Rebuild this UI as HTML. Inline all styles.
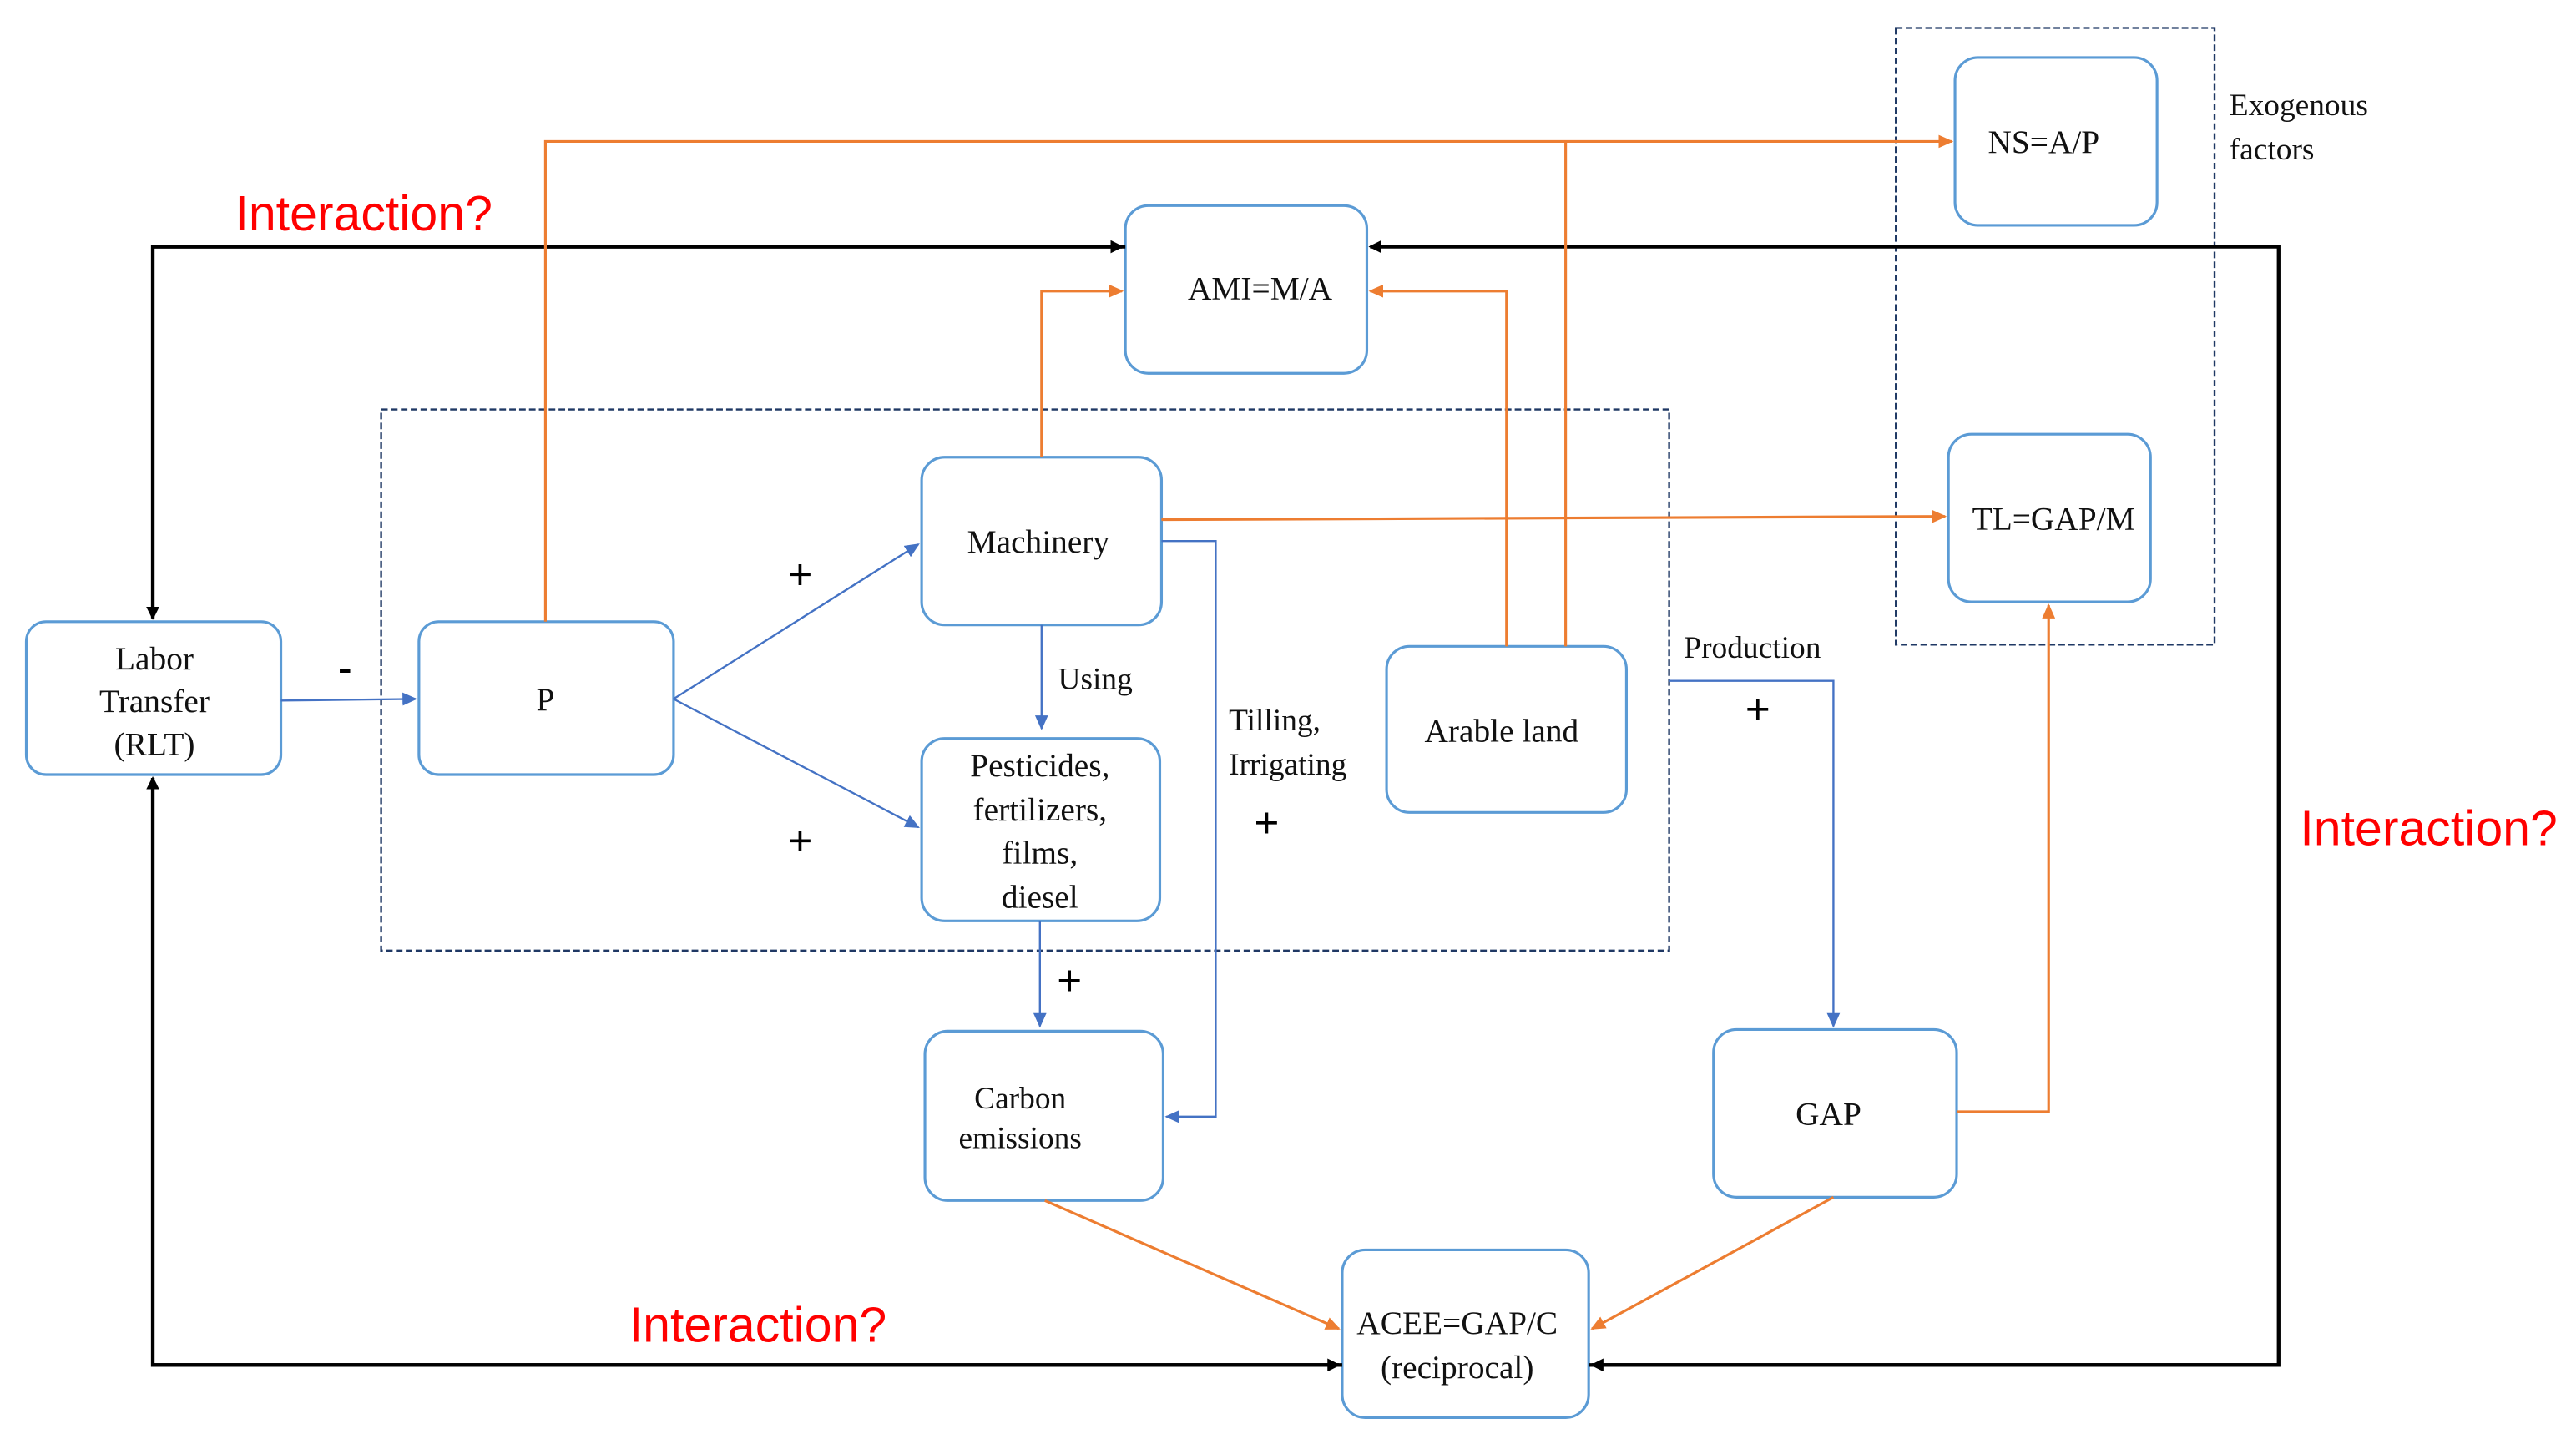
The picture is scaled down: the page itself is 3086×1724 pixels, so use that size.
<!DOCTYPE html>
<html><head><meta charset="utf-8"><style>html,body{margin:0;padding:0;background:#fff}svg{display:block}</style></head><body>
<svg width="3086" height="1724" viewBox="0 0 1568 875" preserveAspectRatio="none" xmlns="http://www.w3.org/2000/svg">
<defs>
<marker id="ab" markerWidth="8" markerHeight="8" refX="7" refY="4" orient="auto" markerUnits="userSpaceOnUse"><path d="M0,0 L8,4 L0,8 z" fill="#000"/></marker>
<marker id="ao" markerWidth="9" markerHeight="8" refX="8" refY="4" orient="auto" markerUnits="userSpaceOnUse"><path d="M0,0 L9,4 L0,8 z" fill="#ED7D31"/></marker>
<marker id="au" markerWidth="9" markerHeight="8" refX="8" refY="4" orient="auto" markerUnits="userSpaceOnUse"><path d="M0,0 L9,4 L0,8 z" fill="#4472C4"/></marker>
</defs>
<g fill="none" stroke="#1F3864" stroke-width="1.2" stroke-dasharray="4,2">
<rect x="232" y="249" width="784" height="329"/>
<rect x="1154" y="17" width="194" height="375"/>
</g>
<g fill="#fff" stroke="#5B9BD5" stroke-width="1.6">
<rect x="16" y="378" width="155" height="93" rx="12"/>
<rect x="255" y="378" width="155" height="93" rx="12"/>
<rect x="561" y="278" width="146" height="102" rx="14"/>
<rect x="561" y="449" width="145" height="111" rx="14"/>
<rect x="563" y="627" width="145" height="103" rx="14"/>
<rect x="685" y="125" width="147" height="102" rx="14"/>
<rect x="844" y="393" width="146" height="101" rx="14"/>
<rect x="1190" y="35" width="123" height="102" rx="14"/>
<rect x="1186" y="264" width="123" height="102" rx="14"/>
<rect x="1043" y="626" width="148" height="102" rx="14"/>
<rect x="817" y="760" width="150" height="102" rx="14"/>
</g>
<g fill="none" stroke="#000" stroke-width="2.2">
<path d="M685,150 H93 V376" marker-end="url(#ab)"/>
<path d="M93,150 H683" marker-end="url(#ab)"/>
<path d="M967,830 H1387 V150 H834" marker-end="url(#ab)"/>
<path d="M1387,830 H969" marker-end="url(#ab)"/>
<path d="M817,830 H93 V473" marker-end="url(#ab)"/>
<path d="M93,830 H815" marker-end="url(#ab)"/>
</g>
<g fill="none" stroke="#ED7D31" stroke-width="1.6">
<path d="M332,378 V86 H1188" marker-end="url(#ao)"/>
<path d="M953,393 V86"/>
<path d="M917,393 V177 H834" marker-end="url(#ao)"/>
<path d="M634,278 V177 H683" marker-end="url(#ao)"/>
<path d="M707,316 L1184,314" marker-end="url(#ao)"/>
<path d="M1191,676 H1247 V368" marker-end="url(#ao)"/>
<path d="M636,730 L815,808" marker-end="url(#ao)"/>
<path d="M1116,728 L969,808" marker-end="url(#ao)"/>
</g>
<g fill="none" stroke="#4472C4" stroke-width="1.2">
<path d="M171,426 L253,425" marker-end="url(#au)"/>
<path d="M410,425 L559,331" marker-end="url(#au)"/>
<path d="M410,425 L559,503" marker-end="url(#au)"/>
<path d="M634,380 V443" marker-end="url(#au)"/>
<path d="M633,560 V624" marker-end="url(#au)"/>
<path d="M707,329 H740 V679 H710" marker-end="url(#au)"/>
<path d="M1016,414 H1116 V624" marker-end="url(#au)"/>
</g>
<g font-family="Liberation Serif, serif" font-size="20" fill="#111" text-anchor="middle">
<text x="94" y="407">Labor</text><text x="94" y="433">Transfer</text><text x="94" y="459">(RLT)</text>
<text x="332" y="432">P</text>
<text x="632" y="336">Machinery</text>
<text x="633" y="472">Pesticides,</text><text x="633" y="499">fertilizers,</text><text x="633" y="525">films,</text><text x="633" y="552">diesel</text>
<text x="621" y="674" font-size="19">Carbon</text><text x="621" y="698" font-size="19">emissions</text>
<text x="767" y="182">AMI=M/A</text>
<text x="914" y="451">Arable land</text>
<text x="1244" y="93">NS=A/P</text>
<text x="1250" y="322">TL=GAP/M</text>
<text x="1113" y="684">GAP</text>
<text x="887" y="811">ACEE=GAP/C</text><text x="887" y="838">(reciprocal)</text>
</g>
<g font-family="Liberation Serif, serif" font-size="19" fill="#111">
<text x="644" y="419">Using</text>
<text x="748" y="444">Tilling,</text><text x="748" y="471">Irrigating</text>
<text x="1025" y="400">Production</text>
<text x="1357" y="70">Exogenous</text><text x="1357" y="97">factors</text>
</g>
<g font-family="Liberation Sans, sans-serif" font-size="26" fill="#000" text-anchor="middle">
<text x="487" y="358">+</text><text x="487" y="520">+</text><text x="771" y="509">+</text><text x="651" y="605">+</text><text x="1070" y="440">+</text>
<text x="210" y="415">-</text>
</g>
<g font-family="Liberation Sans, sans-serif" font-size="30" fill="#FF0000">
<text x="143" y="140">Interaction?</text>
<text x="1400" y="514">Interaction?</text>
<text x="383" y="816">Interaction?</text>
</g>
</svg>
</body></html>
